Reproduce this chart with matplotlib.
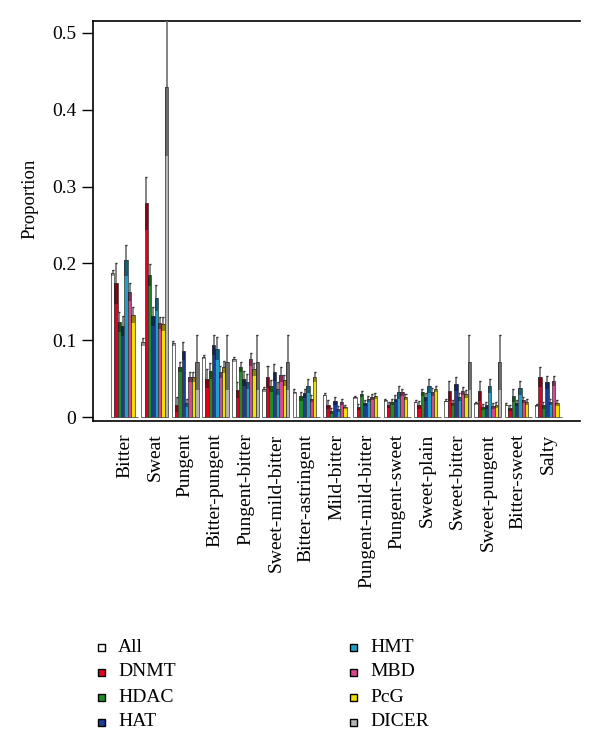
import matplotlib
matplotlib.use("Agg")
import matplotlib.pyplot as plt
from matplotlib.patches import Rectangle
import numpy as np

# Categories and series
tastes = ["Bitter", "Sweat", "Pungent", "Bitter-pungent", "Pungent-bitter",
          "Sweet-mild-bitter", "Bitter-astringent", "Mild-bitter",
          "Pungent-mild-bitter", "Pungent-sweet", "Sweet-plain", "Sweet-bitter",
          "Sweet-pungent", "Bitter-sweet", "Salty"]
series = ["All", "DNMT", "HDAC", "HAT", "HMT", "MBD", "PcG", "DICER"]
colors = ["#ffffff", "#e1001e", "#1e8c28", "#1e3c96", "#1ea0c8", "#d8478c", "#f0e000", "#b4b4b4"]

# proportion per taste, one list per series
all_v   = [0.187, 0.098, 0.096, 0.078, 0.075, 0.036, 0.033, 0.029, 0.026, 0.022, 0.020, 0.021, 0.018, 0.016, 0.015]
dnmt_v  = [0.174, 0.278, 0.016, 0.050, 0.035, 0.052, 0.000, 0.016, 0.013, 0.016, 0.016, 0.034, 0.034, 0.012, 0.052]
hdac_v  = [0.124, 0.185, 0.065, 0.060, 0.065, 0.040, 0.027, 0.008, 0.030, 0.019, 0.032, 0.018, 0.013, 0.028, 0.015]
hat_v   = [0.118, 0.131, 0.086, 0.094, 0.050, 0.058, 0.031, 0.021, 0.018, 0.024, 0.026, 0.043, 0.015, 0.018, 0.045]
hmt_v   = [0.204, 0.155, 0.018, 0.089, 0.046, 0.037, 0.040, 0.010, 0.024, 0.032, 0.040, 0.026, 0.040, 0.038, 0.020]
mbd_v   = [0.163, 0.122, 0.052, 0.059, 0.075, 0.055, 0.024, 0.020, 0.026, 0.032, 0.033, 0.034, 0.014, 0.022, 0.047]
pcg_v   = [0.133, 0.121, 0.052, 0.065, 0.062, 0.048, 0.052, 0.013, 0.027, 0.026, 0.037, 0.030, 0.016, 0.020, 0.018]
dicer_v = [0.000, 0.430, 0.071, 0.071, 0.071, 0.071, 0.000, 0.000, 0.000, 0.000, 0.000, 0.071, 0.071, 0.000, 0.000]

# error half-widths
all_e   = [0.004, 0.005, 0.003, 0.003, 0.003, 0.003, 0.003, 0.002, 0.002, 0.002, 0.002, 0.002, 0.002, 0.002, 0.002]
dnmt_e  = [0.027, 0.035, 0.010, 0.012, 0.010, 0.014, 0.000, 0.006, 0.004, 0.004, 0.005, 0.013, 0.013, 0.004, 0.013]
hdac_e  = [0.013, 0.014, 0.007, 0.010, 0.007, 0.008, 0.006, 0.004, 0.004, 0.004, 0.005, 0.004, 0.004, 0.008, 0.004]
hat_e   = [0.013, 0.012, 0.012, 0.013, 0.010, 0.011, 0.006, 0.005, 0.004, 0.005, 0.005, 0.009, 0.005, 0.004, 0.008]
hmt_e   = [0.020, 0.017, 0.005, 0.015, 0.010, 0.008, 0.009, 0.004, 0.004, 0.008, 0.009, 0.005, 0.009, 0.009, 0.004]
mbd_e   = [0.012, 0.008, 0.007, 0.008, 0.008, 0.010, 0.005, 0.004, 0.004, 0.005, 0.005, 0.005, 0.004, 0.004, 0.007]
pcg_e   = [0.010, 0.009, 0.006, 0.008, 0.008, 0.007, 0.006, 0.003, 0.004, 0.004, 0.004, 0.005, 0.004, 0.004, 0.004]
dicer_e = [0.000, 0.090, 0.036, 0.036, 0.036, 0.036, 0.000, 0.000, 0.000, 0.000, 0.000, 0.036, 0.036, 0.000, 0.000]

values = np.array([all_v, dnmt_v, hdac_v, hat_v, hmt_v, mbd_v, pcg_v, dicer_v])
errors = np.array([all_e, dnmt_e, hdac_e, hat_e, hmt_e, mbd_e, pcg_e, dicer_e])

plt.rcParams["font.family"] = ["Liberation Serif", "DejaVu Serif"]

fig = plt.figure(figsize=(6.0, 7.54), dpi=100)
ax = fig.add_axes([93 / 600, 1 - 421 / 754, 487 / 600, 400 / 754])

n_ser = len(series)
group = n_ser + 1  # one bar of space between groups, like R beside=TRUE

for j in range(n_ser):
    x = np.arange(len(tastes)) * group + 1.5 + j
    v = values[j]
    e = errors[j]
    ax.bar(x, v, width=1.0, color=colors[j], edgecolor="#333333", linewidth=0.5, zorder=2)
    # dark band below the top, thin whisker above
    ax.bar(x, e, bottom=v - e, width=1.0, color="black", alpha=0.4, linewidth=0, zorder=3)
    m = e > 0
    ax.vlines(x[m], v[m], v[m] + e[m], color="#6e6e6e", linewidth=1.2, zorder=4)
    ax.hlines(v[m] + e[m], x[m] - 0.3, x[m] + 0.3, color="#333333", linewidth=1.0, zorder=4)

centers = np.arange(len(tastes)) * group + 1 + n_ser / 2
ax.set_xticks(centers)
ax.set_xticklabels(tastes, rotation=90, fontsize=14)
ax.tick_params(axis="x", length=0, pad=9)

ax.set_xlim(1 - 5.35, len(tastes) * group + 5.35)
ax.set_ylim(-0.0052, 0.5156)
ax.set_yticks([0, 0.1, 0.2, 0.3, 0.4, 0.5])
ax.set_yticklabels(["0", "0.1", "0.2", "0.3", "0.4", "0.5"], fontsize=14)
ax.tick_params(axis="y", length=8, width=1, pad=4)

ax.set_ylabel("Proportion", fontsize=13.5)
ax.yaxis.set_label_coords(-0.113, 0.555)

for s in ["top", "left", "bottom"]:
    ax.spines[s].set_linewidth(1.2)
ax.spines["right"].set_visible(False)

# legend, two columns, drawn by hand
for k, name in enumerate(series):
    col = k // 4
    row = k % 4
    x0 = [98, 350][col]
    y0 = 647 + row * 25
    fig.patches.append(Rectangle((x0 / 600, 1 - (y0 + 4) / 754), 7 / 600, 7 / 754,
                                 transform=fig.transFigure, facecolor=colors[k],
                                 edgecolor="black", linewidth=1.0))
    fig.text((x0 + 20) / 600, 1 - y0 / 754, name, fontsize=14, va="center", ha="left")

fig.savefig("out.png", dpi=100)
